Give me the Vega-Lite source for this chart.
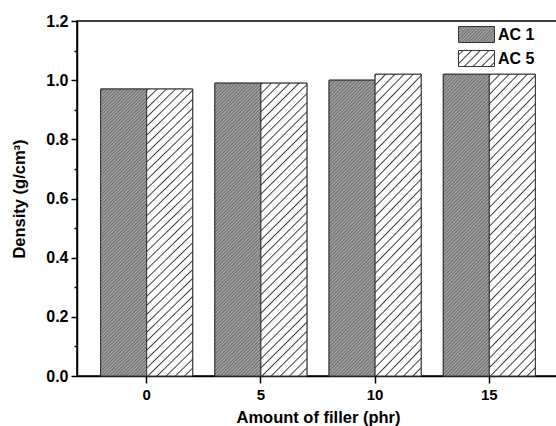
{
  "$schema": "https://vega.github.io/schema/vega-lite/v6.json",
  "autosize": {"type": "none"},
  "padding": {"left": 77, "top": 21, "right": -3, "bottom": 50},
  "width": 482,
  "height": 355,
  "background": "white",
  "config": {
    "view": {"stroke": "black", "strokeWidth": 1.5},
    "axis": {
      "grid": false,
      "domainColor": "black",
      "domainWidth": 1.5,
      "tickColor": "black",
      "tickWidth": 1.5,
      "labelColor": "black",
      "titleColor": "black",
      "labelFont": "Liberation Sans",
      "titleFont": "Liberation Sans",
      "labelFontWeight": "bold",
      "titleFontWeight": "bold"
    },
    "legend": {"labelFont": "Liberation Sans", "labelFontWeight": "bold", "labelColor": "black"}
  },
  "data": {
    "values": [
      {"filler": 0, "series": "AC 1", "density": 0.97},
      {"filler": 0, "series": "AC 5", "density": 0.97},
      {"filler": 5, "series": "AC 1", "density": 0.99},
      {"filler": 5, "series": "AC 5", "density": 0.99},
      {"filler": 10, "series": "AC 1", "density": 1.0},
      {"filler": 10, "series": "AC 5", "density": 1.02},
      {"filler": 15, "series": "AC 1", "density": 1.02},
      {"filler": 15, "series": "AC 5", "density": 1.02}
    ]
  },
  "encoding": {
    "x": {
      "field": "filler",
      "type": "ordinal",
      "scale": {"paddingInner": 0.194, "paddingOuter": 0.207},
      "axis": {
        "title": "Amount of filler (phr)",
        "labelAngle": 0,
        "labelFontSize": 15,
        "titleFontSize": 16.5,
        "tickSize": 7,
        "labelPadding": 4,
        "titlePadding": 7,
        "bandPosition": 0.5
      }
    },
    "xOffset": {"field": "series", "type": "nominal", "scale": {"paddingInner": 0, "paddingOuter": 0}},
    "y": {
      "field": "density",
      "type": "quantitative",
      "scale": {"domain": [0, 1.2], "nice": false},
      "axis": {
        "title": "Density (g/cm³)",
        "values": [0, 0.1, 0.2, 0.3, 0.4, 0.5, 0.6, 0.7, 0.8, 0.9, 1.0, 1.1, 1.2],
        "labelExpr": "round(datum.value*10) % 2 === 0 ? format(datum.value, '.1f') : ''",
        "tickSize": {"condition": {"test": "round(datum.value*10) % 2 === 0", "value": 6}, "value": 3},
        "labelFontSize": 16,
        "titleFontSize": 16.5,
        "labelPadding": 3,
        "titlePadding": 18
      }
    }
  },
  "layer": [
    {
      "mark": {"type": "bar", "stroke": "#333333", "strokeWidth": 1},
      "encoding": {
        "fill": {
          "field": "series",
          "type": "nominal",
          "scale": {"range": [
            {"expr": "{gradient:'linear',x1:0,y1:0,x2:1.206,y2:0.536,stops:[{offset:0,color:'#707070'},{offset:0.03125,color:'#a8a8a8'},{offset:0.0625,color:'#707070'},{offset:0.09375,color:'#a8a8a8'},{offset:0.125,color:'#707070'},{offset:0.15625,color:'#a8a8a8'},{offset:0.1875,color:'#707070'},{offset:0.21875,color:'#a8a8a8'},{offset:0.25,color:'#707070'},{offset:0.28125,color:'#a8a8a8'},{offset:0.3125,color:'#707070'},{offset:0.34375,color:'#a8a8a8'},{offset:0.375,color:'#707070'},{offset:0.40625,color:'#a8a8a8'},{offset:0.4375,color:'#707070'},{offset:0.46875,color:'#a8a8a8'},{offset:0.5,color:'#707070'},{offset:0.53125,color:'#a8a8a8'},{offset:0.5625,color:'#707070'},{offset:0.59375,color:'#a8a8a8'},{offset:0.625,color:'#707070'},{offset:0.65625,color:'#a8a8a8'},{offset:0.6875,color:'#707070'},{offset:0.71875,color:'#a8a8a8'},{offset:0.75,color:'#707070'},{offset:0.78125,color:'#a8a8a8'},{offset:0.8125,color:'#707070'},{offset:0.84375,color:'#a8a8a8'},{offset:0.875,color:'#707070'},{offset:0.90625,color:'#a8a8a8'},{offset:0.9375,color:'#707070'},{offset:0.96875,color:'#a8a8a8'},{offset:1,color:'#707070'}]}"},
            {"expr": "{gradient:'linear',x1:0,y1:0,x2:1.206,y2:0.536,stops:[{offset:0,color:'#ffffff'},{offset:0.06,color:'#ffffff'},{offset:0.086,color:'#3a3a3a'},{offset:0.112,color:'#ffffff'},{offset:0.227,color:'#ffffff'},{offset:0.253,color:'#3a3a3a'},{offset:0.279,color:'#ffffff'},{offset:0.393,color:'#ffffff'},{offset:0.419,color:'#3a3a3a'},{offset:0.445,color:'#ffffff'},{offset:0.56,color:'#ffffff'},{offset:0.586,color:'#3a3a3a'},{offset:0.612,color:'#ffffff'},{offset:0.727,color:'#ffffff'},{offset:0.753,color:'#3a3a3a'},{offset:0.779,color:'#ffffff'},{offset:0.893,color:'#ffffff'},{offset:0.919,color:'#3a3a3a'},{offset:0.945,color:'#ffffff'},{offset:1,color:'#ffffff'}]}"}
          ]},
          "legend": {
            "title": null,
            "orient": "none",
            "legendX": 391,
            "legendY": 5,
            "padding": 0,
            "symbolSize": 256,
            "symbolType": "M-2.25,-1H2.25V1H-2.25Z",
            "symbolStrokeColor": "#333333",
            "symbolStrokeWidth": 1,
            "labelFontSize": 16,
            "labelOffset": 13,
            "rowPadding": 3
          }
        }
      }
    },
    {
      "mark": {"type": "bar", "stroke": "#333333", "strokeWidth": 1},
      "encoding": {
        "fill": {
          "condition": {
            "test": "datum.series === 'AC 1'",
            "value": {
              "gradient": "linear", "x1": 0, "y1": 0, "x2": 0.1766, "y2": 1.1288,
              "stops": [
                {"offset":0,"color":"#707070"},{"offset":0.005,"color":"#a8a8a8"},{"offset":0.01,"color":"#707070"},{"offset":0.015,"color":"#a8a8a8"},{"offset":0.02,"color":"#707070"},{"offset":0.025,"color":"#a8a8a8"},{"offset":0.03,"color":"#707070"},{"offset":0.035,"color":"#a8a8a8"},{"offset":0.04,"color":"#707070"},{"offset":0.045,"color":"#a8a8a8"},
                {"offset":0.05,"color":"#707070"},{"offset":0.055,"color":"#a8a8a8"},{"offset":0.06,"color":"#707070"},{"offset":0.065,"color":"#a8a8a8"},{"offset":0.07,"color":"#707070"},{"offset":0.075,"color":"#a8a8a8"},{"offset":0.08,"color":"#707070"},{"offset":0.085,"color":"#a8a8a8"},{"offset":0.09,"color":"#707070"},{"offset":0.095,"color":"#a8a8a8"},
                {"offset":0.1,"color":"#707070"},{"offset":0.105,"color":"#a8a8a8"},{"offset":0.11,"color":"#707070"},{"offset":0.115,"color":"#a8a8a8"},{"offset":0.12,"color":"#707070"},{"offset":0.125,"color":"#a8a8a8"},{"offset":0.13,"color":"#707070"},{"offset":0.135,"color":"#a8a8a8"},{"offset":0.14,"color":"#707070"},{"offset":0.145,"color":"#a8a8a8"},
                {"offset":0.15,"color":"#707070"},{"offset":0.155,"color":"#a8a8a8"},{"offset":0.16,"color":"#707070"},{"offset":0.165,"color":"#a8a8a8"},{"offset":0.17,"color":"#707070"},{"offset":0.175,"color":"#a8a8a8"},{"offset":0.18,"color":"#707070"},{"offset":0.185,"color":"#a8a8a8"},{"offset":0.19,"color":"#707070"},{"offset":0.195,"color":"#a8a8a8"},
                {"offset":0.2,"color":"#707070"},{"offset":0.205,"color":"#a8a8a8"},{"offset":0.21,"color":"#707070"},{"offset":0.215,"color":"#a8a8a8"},{"offset":0.22,"color":"#707070"},{"offset":0.225,"color":"#a8a8a8"},{"offset":0.23,"color":"#707070"},{"offset":0.235,"color":"#a8a8a8"},{"offset":0.24,"color":"#707070"},{"offset":0.245,"color":"#a8a8a8"},
                {"offset":0.25,"color":"#707070"},{"offset":0.255,"color":"#a8a8a8"},{"offset":0.26,"color":"#707070"},{"offset":0.265,"color":"#a8a8a8"},{"offset":0.27,"color":"#707070"},{"offset":0.275,"color":"#a8a8a8"},{"offset":0.28,"color":"#707070"},{"offset":0.285,"color":"#a8a8a8"},{"offset":0.29,"color":"#707070"},{"offset":0.295,"color":"#a8a8a8"},
                {"offset":0.3,"color":"#707070"},{"offset":0.305,"color":"#a8a8a8"},{"offset":0.31,"color":"#707070"},{"offset":0.315,"color":"#a8a8a8"},{"offset":0.32,"color":"#707070"},{"offset":0.325,"color":"#a8a8a8"},{"offset":0.33,"color":"#707070"},{"offset":0.335,"color":"#a8a8a8"},{"offset":0.34,"color":"#707070"},{"offset":0.345,"color":"#a8a8a8"},
                {"offset":0.35,"color":"#707070"},{"offset":0.355,"color":"#a8a8a8"},{"offset":0.36,"color":"#707070"},{"offset":0.365,"color":"#a8a8a8"},{"offset":0.37,"color":"#707070"},{"offset":0.375,"color":"#a8a8a8"},{"offset":0.38,"color":"#707070"},{"offset":0.385,"color":"#a8a8a8"},{"offset":0.39,"color":"#707070"},{"offset":0.395,"color":"#a8a8a8"},
                {"offset":0.4,"color":"#707070"},{"offset":0.405,"color":"#a8a8a8"},{"offset":0.41,"color":"#707070"},{"offset":0.415,"color":"#a8a8a8"},{"offset":0.42,"color":"#707070"},{"offset":0.425,"color":"#a8a8a8"},{"offset":0.43,"color":"#707070"},{"offset":0.435,"color":"#a8a8a8"},{"offset":0.44,"color":"#707070"},{"offset":0.445,"color":"#a8a8a8"},
                {"offset":0.45,"color":"#707070"},{"offset":0.455,"color":"#a8a8a8"},{"offset":0.46,"color":"#707070"},{"offset":0.465,"color":"#a8a8a8"},{"offset":0.47,"color":"#707070"},{"offset":0.475,"color":"#a8a8a8"},{"offset":0.48,"color":"#707070"},{"offset":0.485,"color":"#a8a8a8"},{"offset":0.49,"color":"#707070"},{"offset":0.495,"color":"#a8a8a8"},
                {"offset":0.5,"color":"#707070"},{"offset":0.505,"color":"#a8a8a8"},{"offset":0.51,"color":"#707070"},{"offset":0.515,"color":"#a8a8a8"},{"offset":0.52,"color":"#707070"},{"offset":0.525,"color":"#a8a8a8"},{"offset":0.53,"color":"#707070"},{"offset":0.535,"color":"#a8a8a8"},{"offset":0.54,"color":"#707070"},{"offset":0.545,"color":"#a8a8a8"},
                {"offset":0.55,"color":"#707070"},{"offset":0.555,"color":"#a8a8a8"},{"offset":0.56,"color":"#707070"},{"offset":0.565,"color":"#a8a8a8"},{"offset":0.57,"color":"#707070"},{"offset":0.575,"color":"#a8a8a8"},{"offset":0.58,"color":"#707070"},{"offset":0.585,"color":"#a8a8a8"},{"offset":0.59,"color":"#707070"},{"offset":0.595,"color":"#a8a8a8"},
                {"offset":0.6,"color":"#707070"},{"offset":0.605,"color":"#a8a8a8"},{"offset":0.61,"color":"#707070"},{"offset":0.615,"color":"#a8a8a8"},{"offset":0.62,"color":"#707070"},{"offset":0.625,"color":"#a8a8a8"},{"offset":0.63,"color":"#707070"},{"offset":0.635,"color":"#a8a8a8"},{"offset":0.64,"color":"#707070"},{"offset":0.645,"color":"#a8a8a8"},
                {"offset":0.65,"color":"#707070"},{"offset":0.655,"color":"#a8a8a8"},{"offset":0.66,"color":"#707070"},{"offset":0.665,"color":"#a8a8a8"},{"offset":0.67,"color":"#707070"},{"offset":0.675,"color":"#a8a8a8"},{"offset":0.68,"color":"#707070"},{"offset":0.685,"color":"#a8a8a8"},{"offset":0.69,"color":"#707070"},{"offset":0.695,"color":"#a8a8a8"},
                {"offset":0.7,"color":"#707070"},{"offset":0.705,"color":"#a8a8a8"},{"offset":0.71,"color":"#707070"},{"offset":0.715,"color":"#a8a8a8"},{"offset":0.72,"color":"#707070"},{"offset":0.725,"color":"#a8a8a8"},{"offset":0.73,"color":"#707070"},{"offset":0.735,"color":"#a8a8a8"},{"offset":0.74,"color":"#707070"},{"offset":0.745,"color":"#a8a8a8"},
                {"offset":0.75,"color":"#707070"},{"offset":0.755,"color":"#a8a8a8"},{"offset":0.76,"color":"#707070"},{"offset":0.765,"color":"#a8a8a8"},{"offset":0.77,"color":"#707070"},{"offset":0.775,"color":"#a8a8a8"},{"offset":0.78,"color":"#707070"},{"offset":0.785,"color":"#a8a8a8"},{"offset":0.79,"color":"#707070"},{"offset":0.795,"color":"#a8a8a8"},
                {"offset":0.8,"color":"#707070"},{"offset":0.805,"color":"#a8a8a8"},{"offset":0.81,"color":"#707070"},{"offset":0.815,"color":"#a8a8a8"},{"offset":0.82,"color":"#707070"},{"offset":0.825,"color":"#a8a8a8"},{"offset":0.83,"color":"#707070"},{"offset":0.835,"color":"#a8a8a8"},{"offset":0.84,"color":"#707070"},{"offset":0.845,"color":"#a8a8a8"},
                {"offset":0.85,"color":"#707070"},{"offset":0.855,"color":"#a8a8a8"},{"offset":0.86,"color":"#707070"},{"offset":0.865,"color":"#a8a8a8"},{"offset":0.87,"color":"#707070"},{"offset":0.875,"color":"#a8a8a8"},{"offset":0.88,"color":"#707070"},{"offset":0.885,"color":"#a8a8a8"},{"offset":0.89,"color":"#707070"},{"offset":0.895,"color":"#a8a8a8"},
                {"offset":0.9,"color":"#707070"},{"offset":0.905,"color":"#a8a8a8"},{"offset":0.91,"color":"#707070"},{"offset":0.915,"color":"#a8a8a8"},{"offset":0.92,"color":"#707070"},{"offset":0.925,"color":"#a8a8a8"},{"offset":0.93,"color":"#707070"},{"offset":0.935,"color":"#a8a8a8"},{"offset":0.94,"color":"#707070"},{"offset":0.945,"color":"#a8a8a8"},
                {"offset":0.95,"color":"#707070"},{"offset":0.955,"color":"#a8a8a8"},{"offset":0.96,"color":"#707070"},{"offset":0.965,"color":"#a8a8a8"},{"offset":0.97,"color":"#707070"},{"offset":0.975,"color":"#a8a8a8"},{"offset":0.98,"color":"#707070"},{"offset":0.985,"color":"#a8a8a8"},{"offset":0.99,"color":"#707070"},{"offset":0.995,"color":"#a8a8a8"},
                {"offset":1,"color":"#707070"}
              ]
            }
          },
          "value": {
            "gradient": "linear", "x1": 0, "y1": 0, "x2": 0.1766, "y2": 1.1288,
            "stops": [
              {"offset":0,"color":"#ffffff"},{"offset":0.004,"color":"#3a3a3a"},{"offset":0.008,"color":"#ffffff"},
              {"offset":0.027,"color":"#ffffff"},{"offset":0.031,"color":"#3a3a3a"},{"offset":0.035,"color":"#ffffff"},
              {"offset":0.054,"color":"#ffffff"},{"offset":0.058,"color":"#3a3a3a"},{"offset":0.062,"color":"#ffffff"},
              {"offset":0.081,"color":"#ffffff"},{"offset":0.085,"color":"#3a3a3a"},{"offset":0.089,"color":"#ffffff"},
              {"offset":0.108,"color":"#ffffff"},{"offset":0.112,"color":"#3a3a3a"},{"offset":0.116,"color":"#ffffff"},
              {"offset":0.135,"color":"#ffffff"},{"offset":0.139,"color":"#3a3a3a"},{"offset":0.143,"color":"#ffffff"},
              {"offset":0.162,"color":"#ffffff"},{"offset":0.166,"color":"#3a3a3a"},{"offset":0.17,"color":"#ffffff"},
              {"offset":0.189,"color":"#ffffff"},{"offset":0.193,"color":"#3a3a3a"},{"offset":0.197,"color":"#ffffff"},
              {"offset":0.216,"color":"#ffffff"},{"offset":0.22,"color":"#3a3a3a"},{"offset":0.224,"color":"#ffffff"},
              {"offset":0.243,"color":"#ffffff"},{"offset":0.247,"color":"#3a3a3a"},{"offset":0.251,"color":"#ffffff"},
              {"offset":0.27,"color":"#ffffff"},{"offset":0.274,"color":"#3a3a3a"},{"offset":0.278,"color":"#ffffff"},
              {"offset":0.297,"color":"#ffffff"},{"offset":0.301,"color":"#3a3a3a"},{"offset":0.305,"color":"#ffffff"},
              {"offset":0.324,"color":"#ffffff"},{"offset":0.328,"color":"#3a3a3a"},{"offset":0.332,"color":"#ffffff"},
              {"offset":0.351,"color":"#ffffff"},{"offset":0.355,"color":"#3a3a3a"},{"offset":0.359,"color":"#ffffff"},
              {"offset":0.378,"color":"#ffffff"},{"offset":0.382,"color":"#3a3a3a"},{"offset":0.386,"color":"#ffffff"},
              {"offset":0.405,"color":"#ffffff"},{"offset":0.409,"color":"#3a3a3a"},{"offset":0.413,"color":"#ffffff"},
              {"offset":0.432,"color":"#ffffff"},{"offset":0.436,"color":"#3a3a3a"},{"offset":0.44,"color":"#ffffff"},
              {"offset":0.459,"color":"#ffffff"},{"offset":0.463,"color":"#3a3a3a"},{"offset":0.467,"color":"#ffffff"},
              {"offset":0.486,"color":"#ffffff"},{"offset":0.49,"color":"#3a3a3a"},{"offset":0.494,"color":"#ffffff"},
              {"offset":0.513,"color":"#ffffff"},{"offset":0.517,"color":"#3a3a3a"},{"offset":0.521,"color":"#ffffff"},
              {"offset":0.54,"color":"#ffffff"},{"offset":0.544,"color":"#3a3a3a"},{"offset":0.548,"color":"#ffffff"},
              {"offset":0.567,"color":"#ffffff"},{"offset":0.571,"color":"#3a3a3a"},{"offset":0.575,"color":"#ffffff"},
              {"offset":0.594,"color":"#ffffff"},{"offset":0.598,"color":"#3a3a3a"},{"offset":0.602,"color":"#ffffff"},
              {"offset":0.621,"color":"#ffffff"},{"offset":0.625,"color":"#3a3a3a"},{"offset":0.629,"color":"#ffffff"},
              {"offset":0.648,"color":"#ffffff"},{"offset":0.652,"color":"#3a3a3a"},{"offset":0.656,"color":"#ffffff"},
              {"offset":0.675,"color":"#ffffff"},{"offset":0.679,"color":"#3a3a3a"},{"offset":0.683,"color":"#ffffff"},
              {"offset":0.702,"color":"#ffffff"},{"offset":0.706,"color":"#3a3a3a"},{"offset":0.71,"color":"#ffffff"},
              {"offset":0.729,"color":"#ffffff"},{"offset":0.733,"color":"#3a3a3a"},{"offset":0.737,"color":"#ffffff"},
              {"offset":0.756,"color":"#ffffff"},{"offset":0.76,"color":"#3a3a3a"},{"offset":0.764,"color":"#ffffff"},
              {"offset":0.783,"color":"#ffffff"},{"offset":0.787,"color":"#3a3a3a"},{"offset":0.791,"color":"#ffffff"},
              {"offset":0.81,"color":"#ffffff"},{"offset":0.814,"color":"#3a3a3a"},{"offset":0.818,"color":"#ffffff"},
              {"offset":0.837,"color":"#ffffff"},{"offset":0.841,"color":"#3a3a3a"},{"offset":0.845,"color":"#ffffff"},
              {"offset":0.864,"color":"#ffffff"},{"offset":0.868,"color":"#3a3a3a"},{"offset":0.872,"color":"#ffffff"},
              {"offset":0.891,"color":"#ffffff"},{"offset":0.895,"color":"#3a3a3a"},{"offset":0.899,"color":"#ffffff"},
              {"offset":0.918,"color":"#ffffff"},{"offset":0.922,"color":"#3a3a3a"},{"offset":0.926,"color":"#ffffff"},
              {"offset":0.945,"color":"#ffffff"},{"offset":0.949,"color":"#3a3a3a"},{"offset":0.953,"color":"#ffffff"},
              {"offset":0.972,"color":"#ffffff"},{"offset":0.976,"color":"#3a3a3a"},{"offset":0.98,"color":"#ffffff"},
              {"offset":1,"color":"#ffffff"}
            ]
          }
        }
      }
    }
  ]
}
